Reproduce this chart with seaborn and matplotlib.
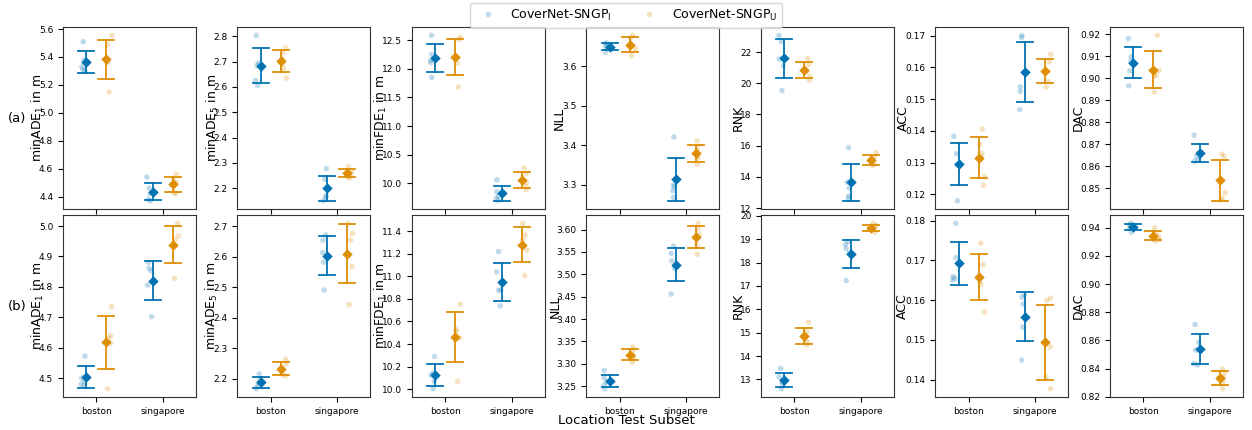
import numpy as np
import pandas as pd
import matplotlib
matplotlib.use("Agg")
import matplotlib.pyplot as plt
import seaborn as sns

# ---------------- data ----------------
locations = ["boston", "singapore"]
models = ["CoverNet-SNGP$_\\mathrm{I}$", "CoverNet-SNGP$_\\mathrm{U}$"]
metrics = ["minADE1", "minADE5", "minFDE1", "NLL", "RNK", "ACC", "DAC"]
ylabels = ["minADE$_1$ in m", "minADE$_5$ in m", "minFDE$_1$ in m", "NLL", "RNK", "ACC", "DAC"]
row_tags = ["(a)", "(b)"]
xlabel = "Location Test Subset"

# each list: [[boston runs], [singapore runs]]
# ---- row (a)
a_minADE1_I = [[5.51, 5.38, 5.33, 5.31, 5.30], [4.54, 4.46, 4.42, 4.38, 4.37]]
a_minADE1_U = [[5.555, 5.488, 5.369, 5.357, 5.15], [4.56, 4.53, 4.50, 4.43, 4.42]]
a_minADE5_I = [[2.804, 2.695, 2.685, 2.626, 2.606], [2.277, 2.235, 2.17, 2.163, 2.150]]
a_minADE5_U = [[2.755, 2.735, 2.71, 2.675, 2.635], [2.285, 2.268, 2.257, 2.245, 2.24]]
a_minFDE1_I = [[12.581, 12.244, 12.145, 12.105, 11.849], [10.063, 9.85, 9.776, 9.736, 9.70]]
a_minFDE1_U = [[12.546, 12.511, 12.2, 12.098, 11.678], [10.27, 10.172, 10.017, 9.948, 9.89]]
a_NLL_I = [[3.660, 3.656, 3.652, 3.646, 3.636], [3.421, 3.30, 3.295, 3.285, 3.268]]
a_NLL_U = [[3.679, 3.673, 3.652, 3.645, 3.628], [3.411, 3.394, 3.373, 3.366, 3.352]]
a_RNK_I = [[23.07, 22.68, 21.55, 21.13, 19.53], [15.88, 13.66, 13.28, 12.77, 12.62]]
a_RNK_U = [[21.6, 21.2, 20.75, 20.45, 20.2], [15.55, 15.3, 15.05, 14.8, 14.7]]
a_ACC_I = [[0.1383, 0.1328, 0.1294, 0.1292, 0.1180], [0.1701, 0.1694, 0.1539, 0.1525, 0.1467]]
a_ACC_U = [[0.1406, 0.1358, 0.1329, 0.1256, 0.1229], [0.1641, 0.1618, 0.1589, 0.1556, 0.1538]]
a_DAC_I = [[0.9179, 0.9096, 0.9076, 0.9033, 0.8965], [0.8741, 0.8662, 0.8645, 0.8628, 0.8622]]
a_DAC_U = [[0.9194, 0.9035, 0.9012, 0.9012, 0.8936], [0.8655, 0.8644, 0.8480, 0.8455, 0.8446]]
# ---- row (b)
b_minADE1_I = [[4.572, 4.50, 4.49, 4.48, 4.475], [4.88, 4.861, 4.853, 4.806, 4.702]]
b_minADE1_U = [[4.735, 4.64, 4.631, 4.615, 4.465], [5.009, 4.968, 4.956, 4.935, 4.828]]
b_minADE5_I = [[2.216, 2.20, 2.185, 2.176, 2.168], [2.671, 2.654, 2.613, 2.582, 2.491]]
b_minADE5_U = [[2.264, 2.249, 2.232, 2.215, 2.21], [2.709, 2.676, 2.654, 2.567, 2.444]]
b_minFDE1_I = [[10.29, 10.145, 10.125, 10.07, 10.005], [11.218, 11.038, 10.879, 10.874, 10.738]]
b_minFDE1_U = [[10.753, 10.529, 10.514, 10.455, 10.071], [11.468, 11.365, 11.321, 11.232, 11.006]]
b_NLL_I = [[3.285, 3.268, 3.259, 3.252, 3.244], [3.563, 3.547, 3.530, 3.513, 3.456]]
b_NLL_U = [[3.3375, 3.33, 3.318, 3.311, 3.3035], [3.614, 3.601, 3.588, 3.566, 3.545]]
b_RNK_I = [[13.47, 13.1, 12.9, 12.8, 12.6], [18.9, 18.77, 18.6, 18.42, 17.23]]
b_RNK_U = [[15.45, 15.03, 14.75, 14.6, 14.48], [19.68, 19.58, 19.49, 19.4, 19.3]]
b_ACC_I = [[0.1793, 0.1707, 0.1659, 0.1655, 0.1650], [0.1613, 0.1607, 0.1590, 0.1532, 0.1449]]
b_ACC_U = [[0.1743, 0.1689, 0.1647, 0.1639, 0.1570], [0.1605, 0.1599, 0.1482, 0.1407, 0.1377]]
b_DAC_I = [[0.9432, 0.9422, 0.9412, 0.9395, 0.9370], [0.8714, 0.8586, 0.8531, 0.8436, 0.8426]]
b_DAC_U = [[0.9402, 0.9360, 0.9336, 0.9317, 0.9307], [0.8398, 0.8368, 0.8337, 0.8308, 0.8257]]

# ---------------- long table ----------------
g = globals()
records = []
for r, prefix in enumerate(["a", "b"]):
    for m in metrics:
        for model, suf in zip(models, ["I", "U"]):
            vals = g[f"{prefix}_{m}_{suf}"]
            for loc, runs in zip(locations, vals):
                for v in runs:
                    records.append(dict(row=r, metric=m, model=model, location=loc, value=v))
df = pd.DataFrame(records)


def sd_interval(v):
    v = np.asarray(v, dtype=float)
    mu, s = v.mean(), v.std()
    return (mu - s, mu + s)


# ---------------- figure ----------------
palette = sns.color_palette("colorblind", 2)
np.random.seed(3)

fig, axes = plt.subplots(2, 7, figsize=(12.52, 4.30), dpi=100, sharex=True)
fig.subplots_adjust(left=0.0503, right=0.9928, top=0.937, bottom=0.0767,
                    wspace=0.312, hspace=0.033)

# horizontal position of each column's y-label centre, in pixels left of the axes
label_offsets_px = [[25, 25, 31, 27, 23, 32, 32], [25, 26, 31, 31, 23, 33, 32]]

for r in range(2):
    for c, m in enumerate(metrics):
        ax = axes[r, c]
        sub = df[(df["row"] == r) & (df["metric"] == m)]
        sns.stripplot(data=sub, x="location", y="value", hue="model",
                      order=locations, hue_order=models, palette=palette,
                      dodge=True, jitter=0.08, size=4, alpha=0.25, linewidth=0,
                      legend=(r == 0 and c == 0), ax=ax)
        sns.pointplot(data=sub, x="location", y="value", hue="model",
                      order=locations, hue_order=models, palette=palette,
                      dodge=0.3, errorbar=sd_interval, markers="D", linestyle="none",
                      capsize=0.24, markersize=3.3, err_kws={"linewidth": 1.3},
                      legend=False, ax=ax)
        ax.set_xlabel("")
        ax.set_ylabel(ylabels[c], fontsize=9)
        ax.tick_params(labelsize=6.5, length=3.5, width=0.8)
        width_px = ax.get_position().width * 1252
        ax.yaxis.set_label_coords(-label_offsets_px[r][c] / width_px, 0.5)
        ax.yaxis.label.set_verticalalignment("center")
        for sp in ax.spines.values():
            sp.set_color("#333333")

handles, labels = axes[0, 0].get_legend_handles_labels()
axes[0, 0].get_legend().remove()
fig.legend(handles[:2], labels[:2], loc="upper center", bbox_to_anchor=(0.5, 1.0),
           ncol=2, fontsize=9, borderaxespad=0.2, frameon=True)

for r, tag in enumerate(row_tags):
    pos = axes[r, 0].get_position()
    fig.text(17 / 1252, (pos.y0 + pos.y1) / 2, tag, ha="center", va="center", fontsize=9.5)

fig.text(0.5, 1 - 421 / 430, xlabel, ha="center", va="center", fontsize=9.5)

fig.savefig("out.png", dpi=100)
